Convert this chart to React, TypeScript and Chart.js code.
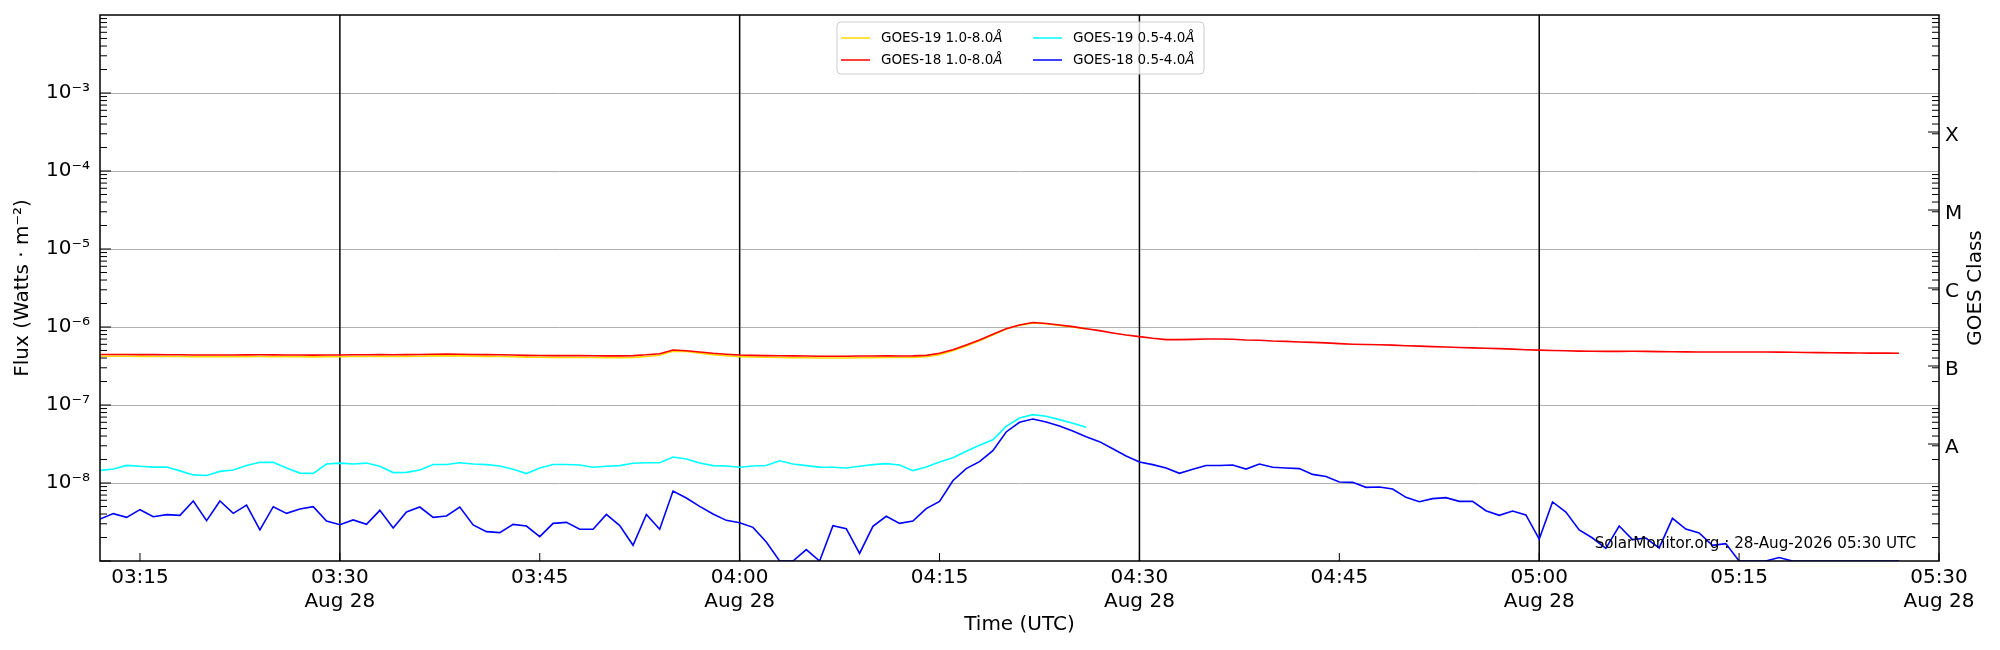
import { useEffect, useRef } from 'react'
import { Chart, registerables } from 'chart.js'

Chart.register(...registerables)
Chart.defaults.font.family = 'DejaVu Sans'
Chart.defaults.color = '#000'

// one sample per minute, first sample at 03:12 UTC
const START_MIN = 3 * 60 + 12
const X_MIN = '03:12'
const X_MAX = '05:30'

const seriesLabels = ['GOES-19 1.0-8.0', 'GOES-18 1.0-8.0', 'GOES-19 0.5-4.0', 'GOES-18 0.5-4.0']
const seriesColors = ['#ffd700', '#ff0000', '#00ffff', '#0000ff']

const goes19Long = [
  4.22e-7, 4.22e-7, 4.21e-7, 4.20e-7, 4.19e-7, 4.18e-7, 4.18e-7, 4.16e-7, 4.15e-7, 4.16e-7,
  4.16e-7, 4.17e-7, 4.18e-7, 4.17e-7, 4.16e-7, 4.15e-7, 4.14e-7, 4.15e-7, 4.16e-7, 4.18e-7,
  4.19e-7, 4.20e-7, 4.19e-7, 4.20e-7, 4.22e-7, 4.26e-7, 4.28e-7, 4.26e-7, 4.23e-7, 4.20e-7,
  4.18e-7, 4.15e-7, 4.11e-7, 4.09e-7, 4.08e-7, 4.07e-7, 4.07e-7, 4.06e-7, 4.05e-7, 4.05e-7,
  4.08e-7, 4.18e-7, 4.35e-7, 4.90e-7, 4.85e-7, 4.62e-7, 4.42e-7, 4.28e-7, 4.17e-7, 4.12e-7,
  4.09e-7, 4.07e-7, 4.05e-7, 4.03e-7, 4.01e-7, 4.00e-7, 4.01e-7, 4.03e-7, 4.04e-7, 4.06e-7,
  4.06e-7, 4.08e-7, 4.15e-7, 4.42e-7, 4.95e-7, 5.72e-7, 6.65e-7, 7.90e-7, 9.40e-7, 1.05e-6,
  1.13e-6, 1.10e-6, 1.05e-6, 1.00e-6, 9.45e-7,
]

const goes18Long = [
  4.45e-7, 4.45e-7, 4.44e-7, 4.43e-7, 4.42e-7, 4.40e-7, 4.40e-7, 4.38e-7, 4.37e-7, 4.38e-7,
  4.38e-7, 4.39e-7, 4.40e-7, 4.39e-7, 4.38e-7, 4.37e-7, 4.36e-7, 4.37e-7, 4.38e-7, 4.40e-7,
  4.41e-7, 4.42e-7, 4.41e-7, 4.42e-7, 4.44e-7, 4.48e-7, 4.50e-7, 4.48e-7, 4.45e-7, 4.42e-7,
  4.40e-7, 4.37e-7, 4.33e-7, 4.31e-7, 4.30e-7, 4.29e-7, 4.29e-7, 4.28e-7, 4.27e-7, 4.27e-7,
  4.30e-7, 4.40e-7, 4.55e-7, 5.07e-7, 4.97e-7, 4.78e-7, 4.60e-7, 4.48e-7, 4.37e-7, 4.33e-7,
  4.30e-7, 4.28e-7, 4.26e-7, 4.24e-7, 4.22e-7, 4.21e-7, 4.22e-7, 4.24e-7, 4.25e-7, 4.27e-7,
  4.25e-7, 4.27e-7, 4.33e-7, 4.60e-7, 5.12e-7, 5.88e-7, 6.81e-7, 8.05e-7, 9.52e-7, 1.06e-6,
  1.14e-6, 1.11e-6, 1.06e-6, 1.01e-6, 9.52e-7, 8.98e-7, 8.38e-7, 7.89e-7, 7.52e-7, 7.16e-7,
  6.89e-7, 6.89e-7, 6.95e-7, 7.02e-7, 7.02e-7, 6.95e-7, 6.81e-7, 6.75e-7, 6.62e-7, 6.55e-7,
  6.43e-7, 6.36e-7, 6.25e-7, 6.12e-7, 6.02e-7, 5.97e-7, 5.93e-7, 5.85e-7, 5.76e-7, 5.68e-7,
  5.60e-7, 5.53e-7, 5.46e-7, 5.40e-7, 5.34e-7, 5.28e-7, 5.20e-7, 5.12e-7, 5.05e-7, 5.00e-7,
  4.95e-7, 4.91e-7, 4.88e-7, 4.87e-7, 4.87e-7, 4.88e-7, 4.87e-7, 4.84e-7, 4.82e-7, 4.80e-7,
  4.79e-7, 4.78e-7, 4.78e-7, 4.79e-7, 4.79e-7, 4.78e-7, 4.77e-7, 4.75e-7, 4.72e-7, 4.70e-7,
  4.68e-7, 4.66e-7, 4.64e-7, 4.63e-7, 4.62e-7, 4.60e-7,
]

const goes19Short = [
  1.45e-8, 1.51e-8, 1.68e-8, 1.64e-8, 1.60e-8, 1.60e-8, 1.43e-8, 1.27e-8, 1.25e-8, 1.41e-8,
  1.47e-8, 1.68e-8, 1.84e-8, 1.84e-8, 1.56e-8, 1.34e-8, 1.33e-8, 1.75e-8, 1.80e-8, 1.75e-8,
  1.80e-8, 1.64e-8, 1.36e-8, 1.37e-8, 1.47e-8, 1.73e-8, 1.73e-8, 1.82e-8, 1.75e-8, 1.72e-8,
  1.65e-8, 1.50e-8, 1.32e-8, 1.56e-8, 1.73e-8, 1.73e-8, 1.70e-8, 1.59e-8, 1.64e-8, 1.67e-8,
  1.79e-8, 1.82e-8, 1.82e-8, 2.15e-8, 2.03e-8, 1.80e-8, 1.67e-8, 1.65e-8, 1.59e-8, 1.65e-8,
  1.68e-8, 1.93e-8, 1.75e-8, 1.67e-8, 1.60e-8, 1.59e-8, 1.56e-8, 1.64e-8, 1.72e-8, 1.77e-8,
  1.70e-8, 1.44e-8, 1.60e-8, 1.86e-8, 2.11e-8, 2.55e-8, 3.04e-8, 3.59e-8, 5.33e-8, 6.81e-8,
  7.52e-8, 7.16e-8, 6.49e-8, 5.82e-8, 5.18e-8,
]

const goes18Short = [
  3.45e-9, 4.05e-9, 3.63e-9, 4.55e-9, 3.70e-9, 3.93e-9, 3.85e-9, 5.88e-9, 3.29e-9, 5.88e-9,
  4.08e-9, 5.22e-9, 2.50e-9, 4.97e-9, 4.08e-9, 4.64e-9, 4.97e-9, 3.26e-9, 2.92e-9, 3.36e-9,
  2.95e-9, 4.46e-9, 2.65e-9, 4.25e-9, 4.92e-9, 3.63e-9, 3.78e-9, 4.92e-9, 2.90e-9, 2.38e-9,
  2.31e-9, 2.95e-9, 2.81e-9, 2.05e-9, 3.04e-9, 3.13e-9, 2.55e-9, 2.55e-9, 3.96e-9, 2.84e-9,
  1.59e-9, 3.96e-9, 2.55e-9, 7.89e-9, 6.43e-9, 5.02e-9, 4.01e-9, 3.32e-9, 3.10e-9, 2.70e-9,
  1.75e-9, 1.00e-9, 1.00e-9, 1.40e-9, 1.00e-9, 2.84e-9, 2.60e-9, 1.25e-9, 2.78e-9, 3.74e-9,
  3.04e-9, 3.26e-9, 4.69e-9, 5.82e-9, 1.07e-8, 1.53e-8, 1.88e-8, 2.60e-8, 4.51e-8, 6.00e-8,
  6.62e-8, 6.05e-8, 5.38e-8, 4.64e-8, 3.93e-8, 3.39e-8, 2.75e-8, 2.22e-8, 1.86e-8, 1.72e-8,
  1.56e-8, 1.33e-8, 1.50e-8, 1.68e-8, 1.68e-8, 1.70e-8, 1.51e-8, 1.75e-8, 1.59e-8, 1.56e-8,
  1.53e-8, 1.29e-8, 1.21e-8, 1.03e-8, 1.02e-8, 8.80e-9, 8.89e-9, 8.38e-9, 6.55e-9, 5.76e-9,
  6.30e-9, 6.49e-9, 5.82e-9, 5.82e-9, 4.42e-9, 3.85e-9, 4.38e-9, 3.89e-9, 1.91e-9, 5.71e-9,
  4.25e-9, 2.50e-9, 1.97e-9, 1.45e-9, 2.81e-9, 1.88e-9, 1.97e-9, 1.47e-9, 3.52e-9, 2.57e-9,
  2.29e-9, 1.59e-9, 1.67e-9, 1.00e-9, 1.00e-9, 1.00e-9, 1.11e-9, 1.00e-9, 1.00e-9, 1.00e-9,
  1.00e-9, 1.00e-9, 1.00e-9, 1.00e-9, 1.00e-9, 1.00e-9,
]

const timeTicks = ['03:15', '03:30', '03:45', '04:00', '04:15', '04:30', '04:45', '05:00', '05:15', '05:30']
const dateTicks = ['03:30', '04:00', '04:30', '05:00', '05:30']
const dateLabel = 'Aug 28'
const markerLines = ['03:30', '04:00', '04:30', '05:00']

const fluxTicks = [1e-8, 1e-7, 1e-6, 1e-5, 1e-4, 1e-3]
const classLabels = ['A', 'B', 'C', 'M', 'X']
const classCenters = [10 ** -7.5, 10 ** -6.5, 10 ** -5.5, 10 ** -4.5, 10 ** -3.5]
const Y_MIN = 1e-9
const Y_MAX = 1e-2

const watermark = 'SolarMonitor.org : 28-Aug-2026 05:30 UTC'

const toMin = (t: string) => {
  const [h, m] = t.split(':').map(Number)
  return h * 60 + m
}
const pad = (n: number) => String(n).padStart(2, '0')
const fmt = (m: number) => `${pad(Math.floor(m / 60))}:${pad(m % 60)}`

const SUP: Record<string, string> = {
  '-': '⁻', '0': '⁰', '1': '¹', '2': '²', '3': '³', '4': '⁴', '5': '⁵', '6': '⁶', '7': '⁷', '8': '⁸', '9': '⁹',
}
const pow10 = (v: number) => '10' + String(Math.round(Math.log10(v))).split('').map(c => SUP[c]).join('')

const toPoints = (arr: number[]) => arr.map((v, i) => ({ x: START_MIN + i, y: v }))

// keep the plot box exactly where the layout puts it
const noEdgePadding = (s: any) => {
  s.paddingTop = 0
  s.paddingBottom = 0
  s.paddingLeft = 0
  s.paddingRight = 0
}

const decorations = {
  id: 'decorations',
  beforeDatasetsDraw(chart: any) {
    const { ctx, chartArea: a, scales } = chart
    ctx.save()
    ctx.strokeStyle = '#000'
    ctx.lineWidth = 1.5
    for (const t of markerLines) {
      const px = scales.x.getPixelForValue(toMin(t))
      ctx.beginPath()
      ctx.moveTo(px, a.top)
      ctx.lineTo(px, a.bottom)
      ctx.stroke()
    }
    ctx.restore()
  },
  afterDraw(chart: any) {
    const { ctx, chartArea: a, scales } = chart
    const y = scales.y
    ctx.save()
    ctx.strokeStyle = '#000'
    ctx.lineWidth = 1

    const hline = (x0: number, x1: number, py: number) => {
      ctx.beginPath()
      ctx.moveTo(x0, py)
      ctx.lineTo(x1, py)
      ctx.stroke()
    }
    // log minor ticks on both sides, pointing inwards
    for (let e = -9; e < -2; e++) {
      for (let k = 2; k <= 9; k++) {
        const py = y.getPixelForValue(k * 10 ** e)
        hline(a.left, a.left + 7, py)
        hline(a.right - 7, a.right, py)
      }
      hline(a.left, a.left + 11, y.getPixelForValue(10 ** e))
    }
    for (const c of classCenters) {
      const py = y.getPixelForValue(c)
      hline(a.right - 11, a.right, py)
    }
    // time ticks at the bottom
    for (const t of timeTicks) {
      const px = scales.x.getPixelForValue(toMin(t))
      ctx.beginPath()
      ctx.moveTo(px, a.bottom)
      ctx.lineTo(px, a.bottom - 8)
      ctx.stroke()
    }

    // frame
    ctx.lineWidth = 1.5
    ctx.strokeRect(a.left, a.top, a.right - a.left, a.bottom - a.top)

    // right axis title, reading upwards
    ctx.save()
    ctx.translate(1976, (a.top + a.bottom) / 2)
    ctx.rotate(-Math.PI / 2)
    ctx.font = '20px "DejaVu Sans"'
    ctx.fillStyle = '#000'
    ctx.textAlign = 'center'
    ctx.textBaseline = 'middle'
    ctx.fillText('GOES Class', 0, 0)
    ctx.restore()

    // watermark
    ctx.font = '15.2px "DejaVu Sans"'
    ctx.fillStyle = '#000'
    ctx.textAlign = 'right'
    ctx.textBaseline = 'alphabetic'
    ctx.fillText(watermark, 1916, 548)

    // legend, two columns filled top to bottom
    const bx = 837, by = 22, bw = 367, bh = 52
    ctx.beginPath()
    ctx.roundRect(bx, by, bw, bh, 4)
    ctx.fillStyle = 'rgba(255,255,255,0.8)'
    ctx.fill()
    ctx.strokeStyle = '#cccccc'
    ctx.lineWidth = 1
    ctx.stroke()
    const cols = [841, 1033]
    const rows = [38, 60]
    const order = [0, 1, 2, 3]
    order.forEach((d, n) => {
      const cx = cols[Math.floor(n / 2)]
      const cy = rows[n % 2]
      ctx.strokeStyle = seriesColors[d]
      ctx.lineWidth = 1.5
      ctx.beginPath()
      ctx.moveTo(cx, cy)
      ctx.lineTo(cx + 29, cy)
      ctx.stroke()
      ctx.fillStyle = '#000'
      ctx.textAlign = 'left'
      ctx.textBaseline = 'middle'
      ctx.font = '13.5px "DejaVu Sans"'
      const label = seriesLabels[d]
      ctx.fillText(label, cx + 40, cy)
      const w = ctx.measureText(label).width
      ctx.font = 'italic 13.5px "DejaVu Sans"'
      ctx.fillText('Å', cx + 40 + w, cy)
    })
    ctx.restore()
  },
}

export default function App() {
  const ref = useRef<HTMLCanvasElement>(null)

  useEffect(() => {
    if (!ref.current) return
    const chart = new Chart(ref.current, {
      type: 'line',
      data: {
        datasets: [
          { label: seriesLabels[1], data: toPoints(goes18Long), borderColor: seriesColors[1], order: 0 },
          { label: seriesLabels[0], data: toPoints(goes19Long), borderColor: seriesColors[0], order: 1 },
          { label: seriesLabels[3], data: toPoints(goes18Short), borderColor: seriesColors[3], order: 2 },
          { label: seriesLabels[2], data: toPoints(goes19Short), borderColor: seriesColors[2], order: 3 },
        ].map(d => ({ ...d, borderWidth: 1.6, pointRadius: 0, tension: 0, fill: false })),
      },
      options: {
        animation: false,
        responsive: false,
        events: [],
        layout: { padding: { top: 15, left: 0, right: 0, bottom: 0 } },
        plugins: { legend: { display: false }, tooltip: { enabled: false } },
        scales: {
          x: {
            type: 'linear',
            min: toMin(X_MIN),
            max: toMin(X_MAX),
            grid: { display: false, drawTicks: false },
            border: { display: false },
            afterBuildTicks: (s: any) => { s.ticks = timeTicks.map(t => ({ value: toMin(t) })) },
            afterFit: (s: any) => { s.height = 89; noEdgePadding(s) },
            ticks: {
              autoSkip: false,
              maxRotation: 0,
              padding: 5,
              font: { size: 20 },
              callback: (v: any) => {
                const t = fmt(Number(v))
                return dateTicks.includes(t) ? [t, dateLabel] : t
              },
            },
            title: { display: true, text: 'Time (UTC)', font: { size: 20 }, padding: { top: 0, bottom: 13 } },
          },
          y: {
            type: 'logarithmic',
            position: 'left',
            min: Y_MIN,
            max: Y_MAX,
            border: { display: false },
            grid: { color: '#b0b0b0', lineWidth: 1, drawTicks: false },
            afterBuildTicks: (s: any) => { s.ticks = fluxTicks.map(v => ({ value: v })) },
            afterFit: (s: any) => { s.width = 100; noEdgePadding(s) },
            ticks: { autoSkip: false, padding: 10, font: { size: 20 }, callback: (v: any) => pow10(Number(v)) },
            title: { display: true, text: 'Flux (Watts · m⁻²)', font: { size: 20 }, padding: { top: 11, bottom: 0 } },
          },
          y2: {
            type: 'logarithmic',
            position: 'right',
            min: Y_MIN,
            max: Y_MAX,
            border: { display: false },
            grid: { display: false, drawTicks: false },
            afterBuildTicks: (s: any) => { s.ticks = classCenters.map(v => ({ value: v })) },
            afterFit: (s: any) => { s.width = 61; noEdgePadding(s) },
            ticks: {
              autoSkip: false,
              padding: 6,
              labelOffset: 4,
              font: { size: 20 },
              callback: (_v: any, i: number) => classLabels[i],
            },
          },
        },
      },
      plugins: [decorations],
    })
    return () => chart.destroy()
  }, [])

  return (
    <div style={{ position: 'fixed', left: 0, top: 0, width: 2000, height: 650, background: '#fff' }}>
      <canvas ref={ref} width={2000} height={650} style={{ width: 2000, height: 650 }} />
    </div>
  )
}
